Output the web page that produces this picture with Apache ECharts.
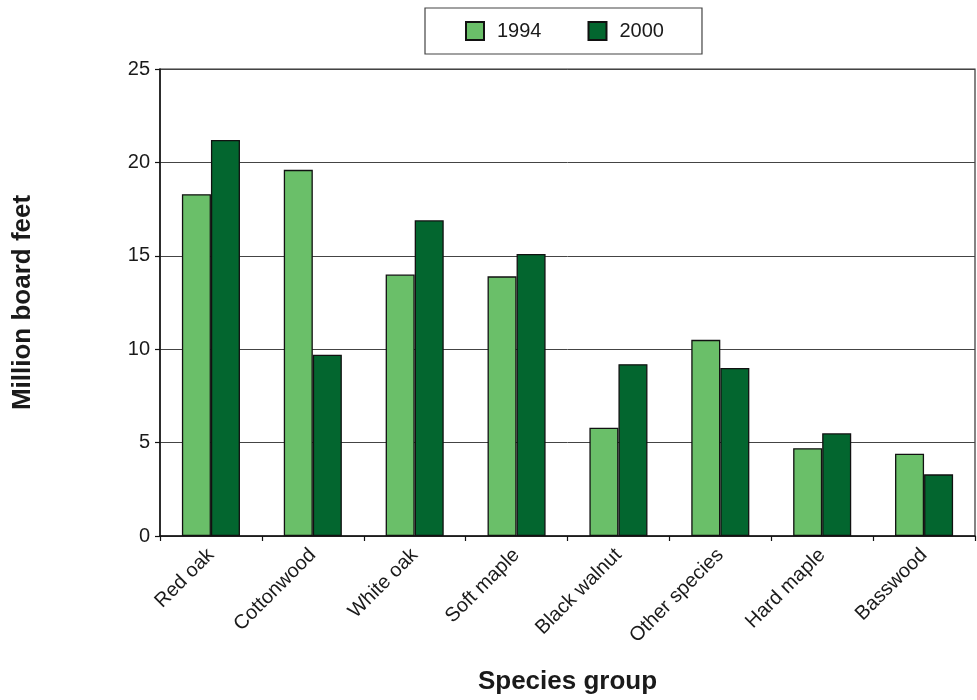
<!DOCTYPE html>
<html>
<head>
<meta charset="utf-8">
<script src="https://cdn.jsdelivr.net/npm/echarts@6/dist/echarts.min.js"></script>
<style>html,body{margin:0;padding:0;background:#fff;}#c{width:977px;height:700px;}</style>
</head>
<body>
<div id="c"></div>
<script>
const categories = ['Red oak','Cottonwood','White oak','Soft maple','Black walnut','Other species','Hard maple','Basswood'];
const values1994 = [18.3, 19.6, 14.0, 13.9, 5.8, 10.5, 4.7, 4.4];
const values2000 = [21.2, 9.7, 16.9, 15.1, 9.2, 9.0, 5.5, 3.3];
const seriesNames = ['1994', '2000'];
const yTicks = [0, 5, 10, 15, 20, 25];

const font = 'Liberation Sans, Arial, Helvetica, sans-serif';
const chart = echarts.init(document.getElementById('c'), null, {renderer: 'canvas'});
chart.setOption({
  animation: false,
  backgroundColor: '#ffffff',
  textStyle: {fontFamily: font},
  legend: {
    data: seriesNames,
    left: 425, top: 8,
    padding: [13, 38, 13, 40],
    itemWidth: 18, itemHeight: 18,
    itemGap: 46,
    borderColor: '#444', borderWidth: 1.2,
    textStyle: {fontSize: 20, color: '#1a1a1a', fontFamily: font, padding: [0, 0, 0, 8]},
    icon: 'rect'
  },
  grid: {
    left: 160, right: 2, top: 69, bottom: 163,
    show: true, borderColor: '#333', borderWidth: 1.2, containLabel: false
  },
  xAxis: {
    type: 'category',
    data: categories,
    name: 'Species group',
    nameLocation: 'middle',
    nameGap: 133,
    nameTextStyle: {fontSize: 26, fontWeight: 'bold', color: '#1a1a1a', fontFamily: font},
    axisLine: {lineStyle: {color: '#111', width: 1.5}},
    axisTick: {show: true, length: 5, inside: false, lineStyle: {color: '#111', width: 1.2}},
    axisLabel: {rotate: 45, fontSize: 20, color: '#1a1a1a', margin: 16, interval: 0, fontFamily: font}
  },
  yAxis: {
    type: 'value',
    min: yTicks[0], max: yTicks[yTicks.length - 1], interval: 5,
    name: 'Million board feet',
    nameLocation: 'middle',
    nameGap: 124,
    nameRotate: 90,
    nameTextStyle: {fontSize: 26, fontWeight: 'bold', color: '#1a1a1a', fontFamily: font},
    axisLine: {show: true, lineStyle: {color: '#111', width: 1.5}},
    axisTick: {show: true, length: 5, lineStyle: {color: '#111', width: 1.2}},
    axisLabel: {fontSize: 20, color: '#1a1a1a', margin: 10, fontFamily: font},
    splitLine: {show: true, lineStyle: {color: '#444', width: 1}}
  },
  series: [
    {
      name: seriesNames[0], type: 'bar', data: values1994,
      barGap: '0%', barCategoryGap: '43%',
      itemStyle: {color: '#6abf69', borderColor: '#111', borderWidth: 1.3}
    },
    {
      name: seriesNames[1], type: 'bar', data: values2000,
      barGap: '0%', barCategoryGap: '43%',
      itemStyle: {color: '#03662f', borderColor: '#111', borderWidth: 1.3}
    }
  ]
});
</script>
</body>
</html>
